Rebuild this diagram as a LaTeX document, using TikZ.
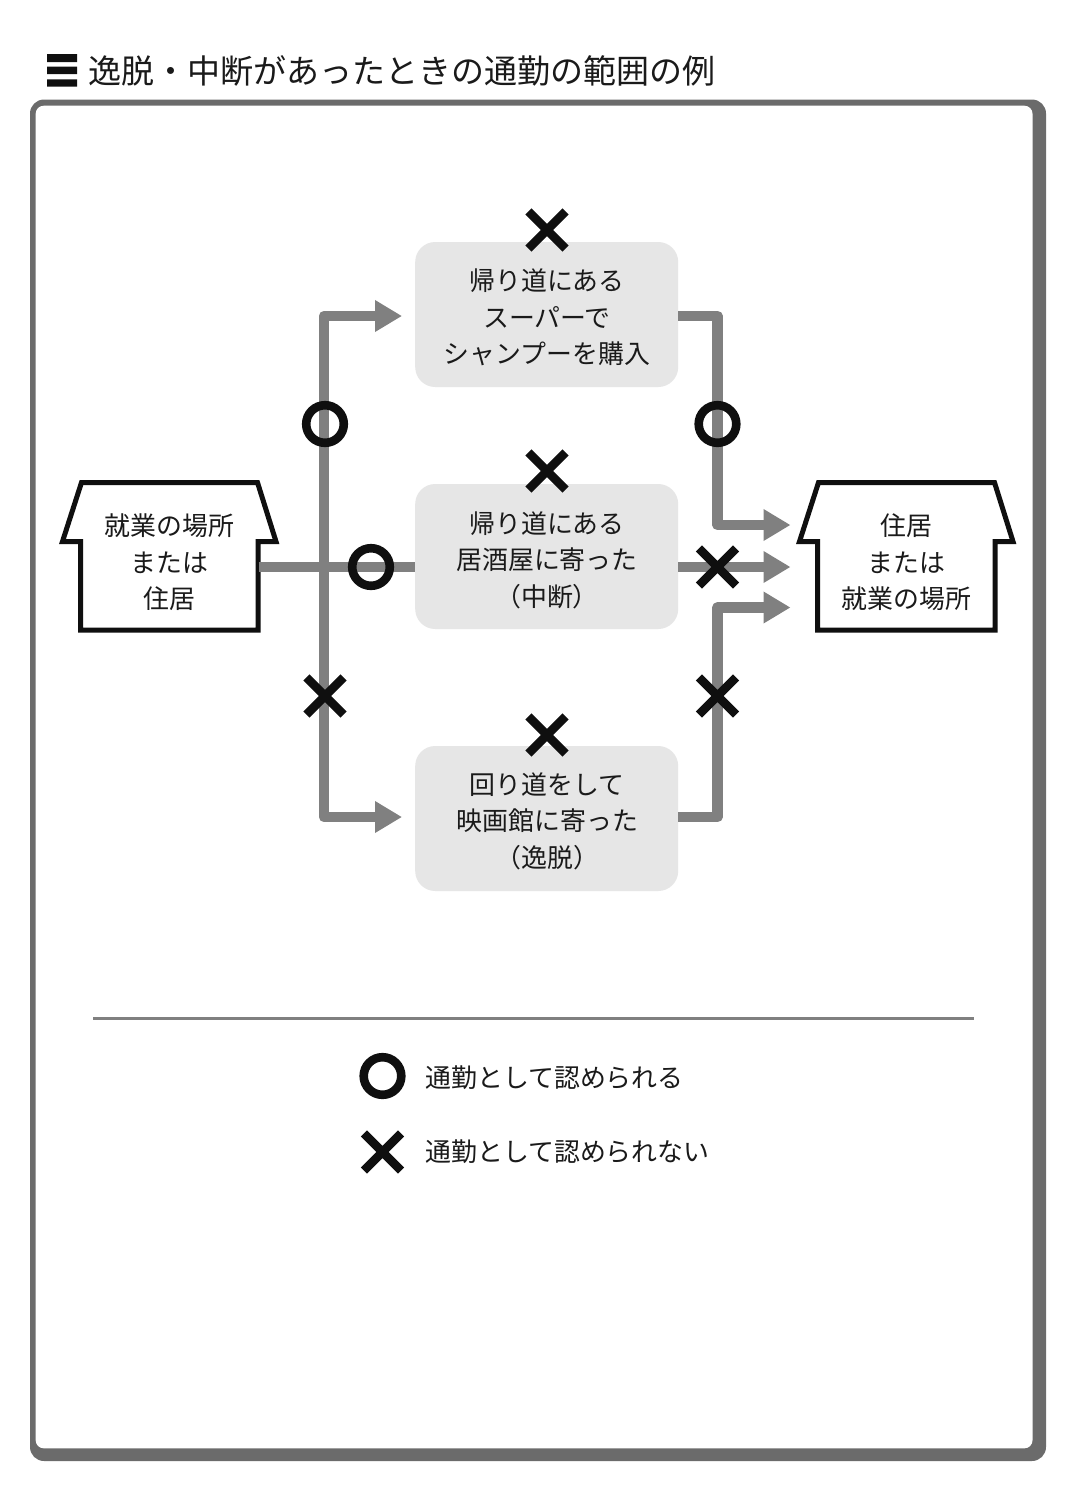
\documentclass[tikz,border=0pt]{standalone}
\usepackage{fontspec}
\setmainfont{Noto Sans CJK JP}
\usetikzlibrary{arrows.meta,shapes.misc}
\definecolor{ink}{HTML}{0F0F0F}
\definecolor{txt}{HTML}{1A1A1A}
\definecolor{flowgray}{HTML}{808080}
\definecolor{framegray}{HTML}{6B6B6B}
\definecolor{boxgray}{HTML}{E6E6E6}
\tikzset{
  x=0.5pt,y=-0.5pt,
  flow/.style={draw=flowgray,line width=5.25pt,line join=round},
  flowarrow/.style={flow,-{Triangle[length=13.5pt,width=15pt]}},
  stopbox/.style={fill=boxgray,draw=none,rounded corners=10pt,minimum width=131.5pt,minimum height=72.5pt,inner sep=0pt,outer sep=0pt},
  label/.style={text=txt,align=center,inner sep=0pt,font=\fontsize{12.95}{18.25}\selectfont},
  housebody/.style={label,minimum width=89pt,minimum height=10pt,outer sep=0pt},
  okmark/.style={circle,draw=ink,line width=4.3pt,minimum size=18.8pt,inner sep=0pt,outer sep=0pt},
  ngmark/.style={cross out,draw=ink,line width=4.35pt,minimum size=18.6pt,inner sep=0pt,outer sep=0pt},
  houseshape/.pic={\draw[draw=ink,fill=white,line width=2.5pt,miter limit=10]
    (62.5,541.5) -- (80.5,541.5) -- (80.5,630) -- (258,630) -- (258,541.5)
    -- (276,541.5) -- (257.5,482.5) -- (81.5,482.5) -- cycle;},
}
\begin{document}
\begin{tikzpicture}
\useasboundingbox (0,0) rectangle (1080,1496);
% frame
\fill[framegray,rounded corners=7pt] (30,99.5) rectangle (1046,1461);
\fill[white,rounded corners=4pt] (35.7,105.7) rectangle (1032.5,1448.3);
% title
\fill[ink] (47,54) rectangle (77,62) (47,66.7) rectangle (77,74) (47,79.3) rectangle (77,86.7);
\node[anchor=west,text=txt,inner sep=0pt,font=\fontsize{16.5}{18}\selectfont] (title) at (88.3,70.5) {逸脱・中断があったときの通勤の範囲の例};
% anchors
\coordinate (tk) at (324,567);
\coordinate (tipT) at (402,316);
\coordinate (tipB) at (402,817);
\coordinate (tipA) at (790.5,525);
\coordinate (tipM) at (790.5,567);
\coordinate (tipC) at (790.5,607.5);
\coordinate (ra) at (717.5,525);
\coordinate (rc) at (717.5,607.5);
% stops
\node[stopbox] (b1) at (546.7,314.5) {};
\node[stopbox] (b2) at (546.7,556.5) {};
\node[stopbox] (b3) at (546.7,818.5) {};
\node[label] (t1) at (547,317.7) {帰り道にある\\スーパーで\\シャンプーを購入};
\node[label] (t2) at (547,560.2) {帰り道にある\\居酒屋に寄った\\（中断）};
\node[label] (t3) at (547.3,821.2) {回り道をして\\映画館に寄った\\（逸脱）};
% houses
\pic at (0,0) {houseshape};
\pic at (737,0) {houseshape};
\node[housebody] (h1) at (169.5,562.2) {就業の場所\\または\\住居};
\node[housebody] (h2) at (906.5,562.2) {住居\\または\\就業の場所};
% connectors
\draw[flow] (h1.east |- tk) -- (b2.west |- tk);
\draw[flowarrow] (tk) |- (tipT);
\draw[flowarrow] (tk) |- (tipB);
\draw[flowarrow] (b1.east |- tipT) -| (ra) -- (tipA);
\draw[flowarrow] (b2.east |- tk) -- (tipM);
\draw[flowarrow] (b3.east |- tipB) -| (rc) -- (tipC);
% marks
\node[okmark] (m1) at (325,424) {};
\node[okmark] (m2) at (371,567) {};
\node[okmark] (m3) at (717.5,424) {};
\node[ngmark] (x1) at (547,230) {};
\node[ngmark] (x2) at (547,471) {};
\node[ngmark] (x3) at (547,735) {};
\node[ngmark] (x4) at (717.5,567) {};
\node[ngmark] (x5) at (325,696) {};
\node[ngmark] (x6) at (717.5,696) {};
% legend
\coordinate (sl) at (93,1018);
\coordinate (sr) at (974,1018);
\draw[flowgray,line width=1.5pt] (sl) -- (sr);
\node[okmark] (l1) at (382.5,1076) {};
\node[ngmark] (l2) at (382.5,1152) {};
\node[label,anchor=west] (lt1) at (425,1077.5) {通勤として認められる};
\node[label,anchor=west] (lt2) at (425,1152) {通勤として認められない};
\end{tikzpicture}
\end{document}
